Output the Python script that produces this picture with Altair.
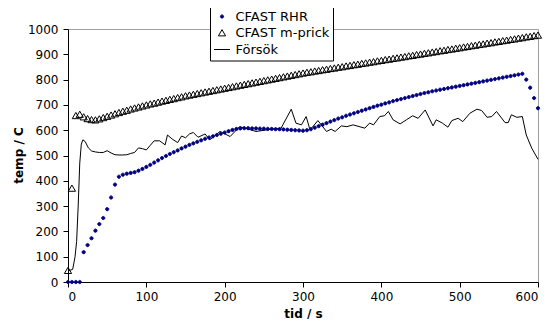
import altair as alt
import pandas as pd

# time grid (s) of the two CFAST series
times = list(range(0, 601, 5))

rhr = [0, 0, 0, 0,
       118, 146, 173, 203, 229, 253, 288, 334, 385, 416, 424, 428, 431, 434, 440, 447, 455,
       463, 472, 481, 490, 498, 506, 513, 520, 528, 535, 542, 548, 554, 560, 566, 571, 576, 581, 586, 591,
       596, 601, 605, 607, 608, 608, 607, 607, 606, 606, 605, 605, 604, 604, 603, 602, 601, 600, 599, 598,
       600, 604, 610, 616, 622, 628, 634, 640, 646, 651, 657, 662, 667, 672, 677, 682, 687, 692, 697, 701,
       706, 710, 715, 719, 723, 727, 731, 735, 739, 743, 747, 750, 754, 757, 760, 763, 766, 769, 772, 775,
       778, 781, 784, 787, 790, 793, 796, 799, 802, 805, 808, 811, 814, 817, 820, 823, 800, 768, 727, 687]

mprick = [45, 370, 657, 662,
          652, 645, 641, 640, 644, 649, 654, 659, 664, 669, 674, 678, 683, 687, 691, 695, 699,
          703, 706, 710, 714, 717, 721, 724, 728, 731, 735, 738, 741, 744, 747, 750, 753, 756, 759, 762, 765,
          768, 771, 774, 777, 780, 783, 786, 789, 792, 795, 798, 801, 804, 807, 810, 813, 816, 819, 822, 825,
          828, 830, 833, 835, 838, 840, 843, 845, 848, 850, 853, 855, 858, 860, 863, 865, 868, 870, 873, 875,
          878, 880, 883, 885, 888, 890, 893, 895, 898, 900, 903, 905, 908, 910, 913, 915, 918, 920, 923, 925,
          928, 930, 933, 935, 938, 940, 943, 945, 948, 950, 953, 955, 958, 960, 963, 965, 968, 970, 973, 975]

fors_t = [0, 3, 6, 9, 11, 13, 15, 17, 19, 22, 26, 30, 35, 40, 45, 50, 55, 60, 65, 70,
          75, 80, 85, 90, 95, 100, 105, 110, 117, 124, 127, 133, 140, 145, 150, 155, 160, 166, 175, 181,
          194, 207, 219, 226, 240, 253, 272, 285, 291, 298, 304, 309, 319, 330, 336, 341, 349, 356, 364, 379,
          385, 390, 398, 404, 409, 415, 424, 432, 440, 447, 456, 466, 470, 478, 485, 490, 498, 504, 513, 522,
          528, 535, 541, 547, 558, 562, 566, 573, 580, 585, 592, 600]
fors_v = [45, 47, 50, 100, 160, 300, 470, 545, 562, 555, 530, 518, 514, 512, 512, 519, 510, 503, 502, 502,
          503, 508, 512, 530, 527, 522, 540, 558, 558, 542, 581, 565, 551, 577, 570, 585, 591, 572, 585, 562,
          595, 575, 614, 608, 595, 601, 608, 683, 628, 621, 654, 601, 638, 595, 604, 595, 617, 614, 621, 608,
          628, 621, 654, 657, 674, 641, 625, 641, 657, 647, 680, 617, 641, 628, 612, 638, 647, 634, 667, 683,
          678, 651, 654, 674, 630, 630, 661, 651, 654, 581, 529, 485]

series_names = ["CFAST RHR", "CFAST m-prick", "Försök"]
x_ticks = [0, 100, 200, 300, 400, 500, 600]
y_ticks = [0, 100, 200, 300, 400, 500, 600, 700, 800, 900, 1000]

shapes = ["M-0.2,0A0.2,0.2,0,1,0,0.2,0A0.2,0.2,0,1,0,-0.2,0Z",
          "M0,-0.42L0.45,0.36L-0.45,0.36Z",
          "M-1,0L1,0"]
fills = ["#000080", "transparent", "transparent"]
strokes = ["#000080", "#000000", "#000000"]

pts = pd.DataFrame({
    "t": times + times,
    "v": rhr + mprick,
    "series": [series_names[0]] * len(times) + [series_names[1]] * len(times),
})
line_df = pd.DataFrame({"t": fors_t, "v": fors_v})

FONT = "DejaVu Sans"

x_enc = alt.X("t:Q", scale=alt.Scale(domain=[0, 600], nice=False),
              axis=alt.Axis(values=x_ticks, format="d", title="tid / s", labelPadding=4,
                            titleY=35, titleBaseline="alphabetic"))
y_enc = alt.Y("v:Q", scale=alt.Scale(domain=[0, 1000], nice=False),
              axis=alt.Axis(values=y_ticks, format="d", title="temp / C", titleX=-46, titleY=126,
                            titleBaseline="alphabetic", titleAlign="center", titleAngle=270))

legend = alt.Legend(title=None, orient="none", legendX=142, legendY=-24.5, padding=3.5,
                    symbolSize=256, symbolStrokeWidth=1, labelFont=FONT, labelFontSize=13,
                    labelColor="black", labelOffset=5, rowPadding=0.5,
                    strokeColor="black", fillColor="white")

line_layer = alt.Chart(line_df).mark_line(color="black", strokeWidth=1).encode(x=x_enc, y=y_enc)

point_layer = alt.Chart(pts).mark_point(size=256, strokeWidth=1, opacity=1).encode(
    x=x_enc, y=y_enc,
    shape=alt.Shape("series:N", scale=alt.Scale(domain=series_names, range=shapes), legend=legend),
    fill=alt.Fill("series:N", scale=alt.Scale(domain=series_names, range=fills), legend=legend),
    stroke=alt.Stroke("series:N", scale=alt.Scale(domain=series_names, range=strokes), legend=legend),
)

chart = alt.layer(line_layer, point_layer).properties(
    width=470, height=253, autosize="none",
    padding={"left": 60, "top": 21, "right": 6, "bottom": 37},
).configure_view(stroke="#a0a0a0", strokeWidth=1).configure_axis(
    labelFont=FONT, labelFontSize=12, labelColor="black", tickColor="black", domainColor="black",
    tickSize=5, labelPadding=5, grid=False, titleFont=FONT, titleFontSize=12,
    titleFontWeight="bold", titleColor="black",
)

chart.save("out.html", embed_options={"renderer": "svg", "actions": False})
